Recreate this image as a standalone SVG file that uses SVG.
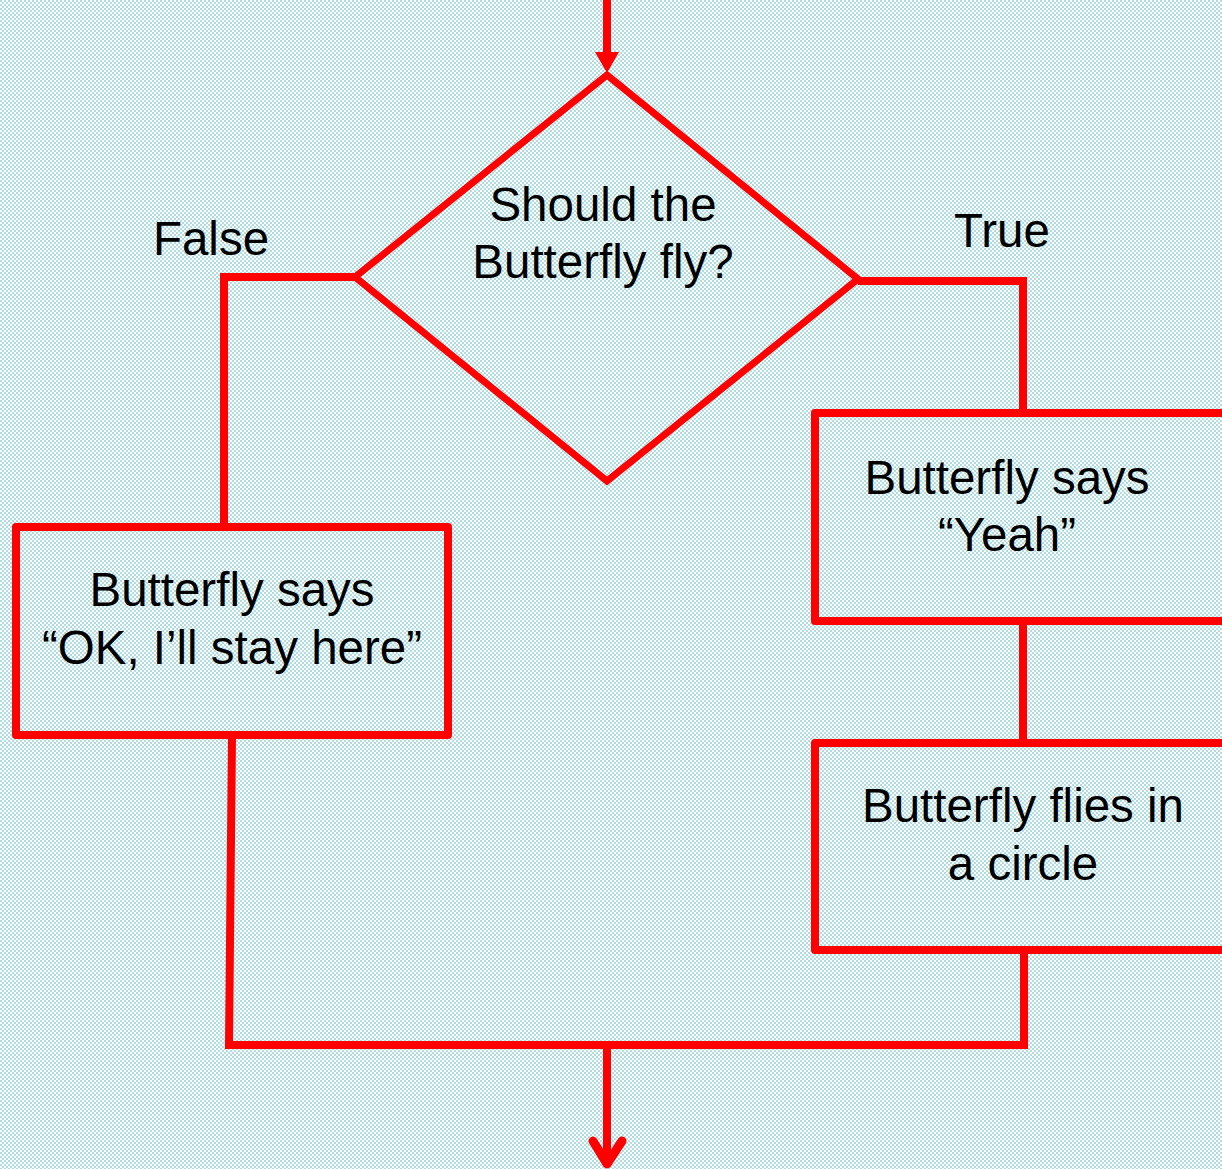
<svg xmlns="http://www.w3.org/2000/svg" width="1222" height="1169" viewBox="0 0 1222 1169">
<defs>
<pattern id="chk" width="4" height="4" patternUnits="userSpaceOnUse">
<rect width="4" height="4" fill="#ffffff"/>
<rect width="2" height="2" fill="#addce2"/>
<rect x="2" y="2" width="2" height="2" fill="#addce2"/>
</pattern>
<style>
.ln{fill:none;stroke:#ff0000;stroke-width:8;stroke-linejoin:miter}
.bx{fill:none;stroke:#ff0000;stroke-width:8;stroke-linejoin:round}
.t{font-family:"Liberation Sans",Arial,sans-serif;font-size:47.5px;fill:#000000;text-anchor:middle}
</style>
</defs>
<rect width="1222" height="1169" fill="url(#chk)"/>
<g id="connectors">
<line class="ln" x1="607" y1="0" x2="607" y2="54"/>
<polygon points="595,52 619,52 607,73" fill="#ff0000"/>
<polyline class="ln" points="355,277 224,277 224,523"/>
<polyline class="ln" points="858,281 1023,281 1023,413"/>
<line class="ln" x1="1023" y1="621" x2="1023" y2="743"/>
<polyline class="ln" points="232,735 229,1045 1024,1045 1024,950"/>
<line class="ln" x1="607" y1="1045" x2="607" y2="1164"/>
<polyline points="593,1141 607,1164 622,1141" fill="none" stroke="#ff0000" stroke-width="9" stroke-linecap="round" stroke-linejoin="round"/>
</g>
<g id="decision">
<polygon class="bx" points="607,75 858,279 607,481 355,277" style="stroke-width:7;stroke-linejoin:miter"/>
<text class="t" x="603" y="221">Should the</text>
<text class="t" x="603" y="278">Butterfly fly?</text>
</g>
<g id="label-false"><text class="t" x="211" y="255">False</text></g>
<g id="label-true"><text class="t" x="1002" y="247">True</text></g>
<g id="stay">
<rect class="bx" x="16" y="527" width="432" height="208"/>
<text class="t" x="232" y="606">Butterfly says</text>
<text class="t" x="232" y="664">“OK, I’ll stay here”</text>
</g>
<g id="yeah">
<rect class="bx" x="815" y="413" width="420" height="208"/>
<text class="t" x="1007" y="494">Butterfly says</text>
<text class="t" x="1007" y="551">“Yeah”</text>
</g>
<g id="circle">
<rect class="bx" x="815" y="743" width="420" height="207"/>
<text class="t" x="1023" y="822">Butterfly flies in</text>
<text class="t" x="1023" y="880">a circle</text>
</g>
</svg>
